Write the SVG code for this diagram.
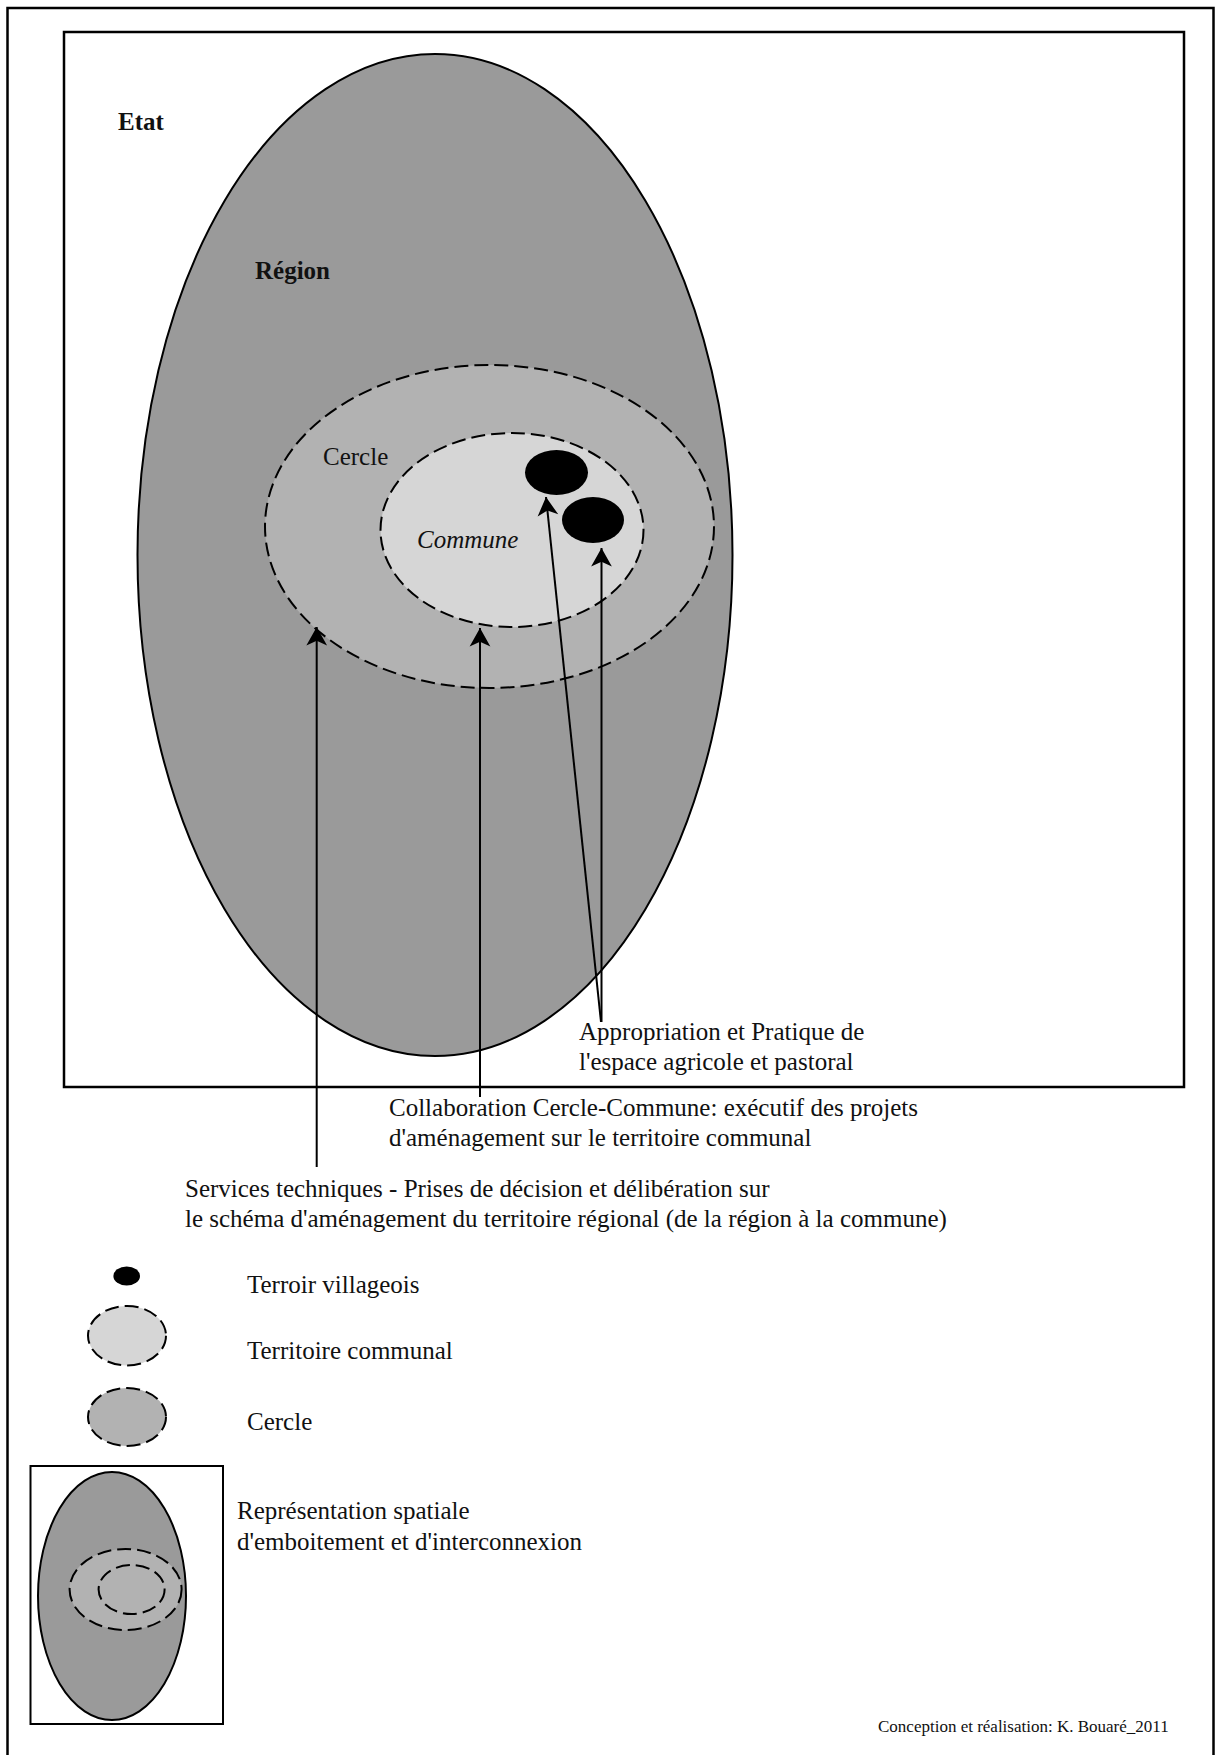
<svg xmlns="http://www.w3.org/2000/svg" width="1216" height="1755" viewBox="0 0 1216 1755" font-family="'Liberation Serif', 'Times New Roman', serif">
<style>
  text { font-family: "Liberation Serif", "Times New Roman", serif; font-size: 25px; fill: #111; }
  .bold { font-weight: bold; }
  .ital { font-style: italic; }
  .frame { fill: none; stroke: #000; stroke-width: 2.5; }
  .region { fill: #9a9a9a; stroke: #000; stroke-width: 2; }
  .cercle { fill: #b2b2b2; stroke: #000; stroke-width: 2; stroke-dasharray: 14 6; }
  .commune { fill: #d6d6d6; stroke: #000; stroke-width: 2; stroke-dasharray: 14 6; }
  .terroir { fill: #000; }
  .conn { stroke: #000; stroke-width: 2; fill: none; marker-end: url(#arrow); }
  .small { font-size: 17px; }
</style>
<defs>
  <marker id="arrow" markerUnits="userSpaceOnUse" markerWidth="24" markerHeight="24" viewBox="-18 -11 20 22" refX="0" refY="0" orient="auto">
    <path d="M0,0 L-17,-9.5 L-12.5,0 L-17,9.5 Z" fill="#000"/>
  </marker>
</defs>
<rect width="1216" height="1755" fill="#fff"/>
<rect id="outer-frame" class="frame" x="7.5" y="8" width="1206" height="1770"/>
<g id="etat">
  <rect class="frame" x="64" y="32" width="1120" height="1055" stroke-width="2"/>
  <text class="bold" x="118" y="130" font-size="28">Etat</text>
</g>
<g id="region">
  <ellipse class="region" cx="435" cy="555" rx="297.5" ry="501"/>
  <text class="bold" x="255" y="279">Région</text>
</g>
<g id="cercle">
  <ellipse class="cercle" cx="489.5" cy="526.5" rx="224.5" ry="161.5"/>
  <text x="323" y="465">Cercle</text>
</g>
<g id="commune">
  <ellipse class="commune" cx="512" cy="530" rx="131.5" ry="97"/>
  <text class="ital" x="417" y="548">Commune</text>
</g>
<g id="terroir-1">
  <ellipse class="terroir" cx="556.5" cy="472.5" rx="31.5" ry="22.5"/>
</g>
<g id="terroir-2">
  <ellipse class="terroir" cx="593" cy="520" rx="31" ry="23"/>
</g>
<g id="connectors">
  <line class="conn" x1="316.7" y1="1167" x2="316.7" y2="627"/>
  <line class="conn" x1="480" y1="1097" x2="480" y2="628"/>
  <line class="conn" x1="601" y1="1022" x2="546" y2="497"/>
  <line class="conn" x1="601.5" y1="1022" x2="601.5" y2="548"/>
</g>
<g id="label-appropriation">
  <text x="579" y="1040">Appropriation et Pratique de</text>
  <text x="579" y="1070">l'espace agricole et pastoral</text>
</g>
<g id="label-collaboration">
  <text x="389" y="1116">Collaboration Cercle-Commune: exécutif des projets</text>
  <text x="389" y="1146">d'aménagement sur le territoire communal</text>
</g>
<g id="label-services">
  <text x="185" y="1197">Services techniques - Prises de décision et délibération sur</text>
  <text x="185" y="1227">le schéma d'aménagement du territoire régional (de la région à la commune)</text>
</g>
<g id="legend-terroir">
  <ellipse class="terroir" cx="126.7" cy="1276" rx="13.3" ry="9.5"/>
  <text x="247" y="1293">Terroir villageois</text>
</g>
<g id="legend-commune">
  <ellipse class="commune" cx="127" cy="1335.7" rx="39" ry="29.7"/>
  <text x="247" y="1359">Territoire communal</text>
</g>
<g id="legend-cercle">
  <ellipse class="cercle" cx="127" cy="1417" rx="39" ry="29"/>
  <text x="247" y="1430">Cercle</text>
</g>
<g id="legend-representation">
  <rect x="30.5" y="1466" width="192.5" height="258" fill="none" stroke="#000" stroke-width="2"/>
  <ellipse class="region" cx="112" cy="1596" rx="74" ry="124"/>
  <ellipse class="cercle" cx="125.6" cy="1589.5" rx="56" ry="40.5"/>
  <ellipse class="cercle" cx="131.6" cy="1589.5" rx="33" ry="24.5"/>
  <text x="237" y="1519">Représentation spatiale</text>
  <text x="237" y="1550">d'emboitement et d'interconnexion</text>
</g>
<g id="credit">
  <text class="small" x="878" y="1732">Conception et réalisation: K. Bouaré_2011</text>
</g>
</svg>
